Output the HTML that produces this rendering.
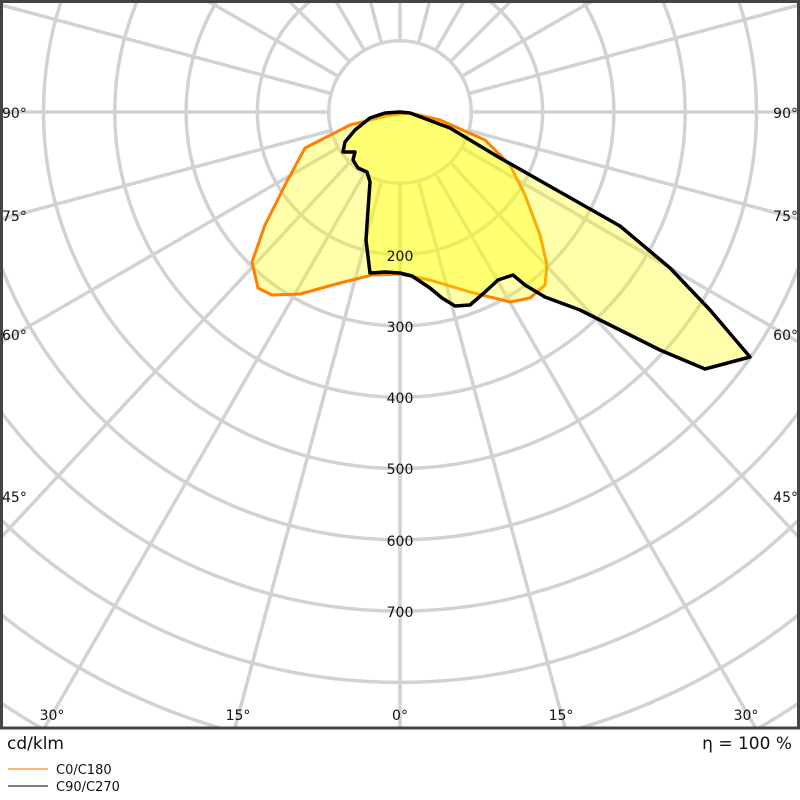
<!DOCTYPE html>
<html><head><style>html,body{margin:0;background:#fff;width:800px;height:800px;overflow:hidden}svg{display:block}text{font-family:"DejaVu Sans","Liberation Sans",sans-serif;font-size:14px;fill:#111}</style></head>
<body>
<svg width="800" height="800" viewBox="0 0 800 800" xmlns="http://www.w3.org/2000/svg">
<defs><clipPath id="c"><rect x="0" y="0" width="800" height="728"/></clipPath></defs>
<g clip-path="url(#c)" stroke="#d2d2d2" stroke-width="3.5" fill="none">
<circle cx="400" cy="112" r="71.3"/><circle cx="400" cy="112" r="142.6"/><circle cx="400" cy="112" r="213.9"/>
<circle cx="400" cy="112" r="285.2"/><circle cx="400" cy="112" r="356.5"/><circle cx="400" cy="112" r="427.8"/>
<circle cx="400" cy="112" r="499.1"/><circle cx="400" cy="112" r="570.4"/><circle cx="400" cy="112" r="641.7"/>
<circle cx="400" cy="112" r="713"/><circle cx="400" cy="112" r="784.3"/>
<path d="M400,183.3V1000M400,40.7V-1000
M418.5,180.9L658.8,1078M381.5,180.9L141.2,1078M435.7,173.8L900,978M364.3,173.8L-100,978
M450.4,162.4L1107,869M349.6,162.4L-307,869M461.7,147.7L1266,612M338.3,147.7L-466,612
M468.9,130.5L1366,371M331.1,130.5L-566,371M471.3,112H1400M328.7,112H-600
M468.9,93.5L1366,-147M331.1,93.5L-566,-147M461.7,76.3L1266,-388M338.3,76.3L-466,-388
M450.4,61.6L1107,-595M349.6,61.6L-307,-595M435.7,50.3L900,-754M364.3,50.3L-100,-754
M418.5,43.1L658.8,-854M381.5,43.1L141.2,-854"/>
</g>
<polygon fill="rgba(255,255,0,0.33)" stroke="#ff8000" stroke-width="3" stroke-linejoin="round" points="410,113 390,115 350,125 305,148 285,185 265,225 252,262 258,288 272,295 300,294 340,283 372,275 400,274 430,280 470,292 510,302 530,298 545,285 547,265 540,235 525,195 510,165 485,140 440,120"/>
<polygon fill="rgba(255,255,0,0.33)" stroke="#000" stroke-width="3.5" stroke-linejoin="round" points="400,112 385,113 370,118 355,130 345,142 343,152 355,152 353,160 358,168 367,172 370,182 368,210 366,240 370,273 385,272 400,273 412,276 430,288 442,298 455,306 470,305 485,292 498,280 513,275 525,285 545,297 580,310 620,330 660,350 705,369 720,365 750,357 710,310 670,268 620,226 560,192 500,158 450,128 410,113"/>
<rect x="1.5" y="1.5" width="797" height="726.5" fill="none" stroke="#444" stroke-width="3"/>
<g text-anchor="middle">
<text x="400" y="261">200</text><text x="400" y="332">300</text><text x="400" y="403">400</text>
<text x="400" y="474">500</text><text x="400" y="546">600</text><text x="400" y="617">700</text>
<text x="52" y="720">30°</text><text x="238" y="720">15°</text><text x="400" y="720">0°</text>
<text x="561" y="720">15°</text><text x="746" y="720">30°</text>
</g>
<text x="2" y="118">90°</text><text x="2" y="221">75°</text><text x="2" y="340">60°</text><text x="2" y="502">45°</text>
<text x="798" y="118" text-anchor="end">90°</text><text x="798" y="221" text-anchor="end">75°</text><text x="798" y="340" text-anchor="end">60°</text><text x="798" y="502" text-anchor="end">45°</text>
<text x="7" y="749" style="font-size:17px">cd/klm</text>
<text x="792" y="749" text-anchor="end" style="font-size:17px">η = 100 %</text>
<line x1="8" y1="769" x2="48" y2="769" stroke="#ffa040" stroke-width="1.5"/>
<line x1="8" y1="786" x2="48" y2="786" stroke="#555" stroke-width="1.5"/>
<text x="56" y="774" style="font-size:13px">C0/C180</text>
<text x="56" y="791" style="font-size:13px">C90/C270</text>
</svg>
</body></html>
